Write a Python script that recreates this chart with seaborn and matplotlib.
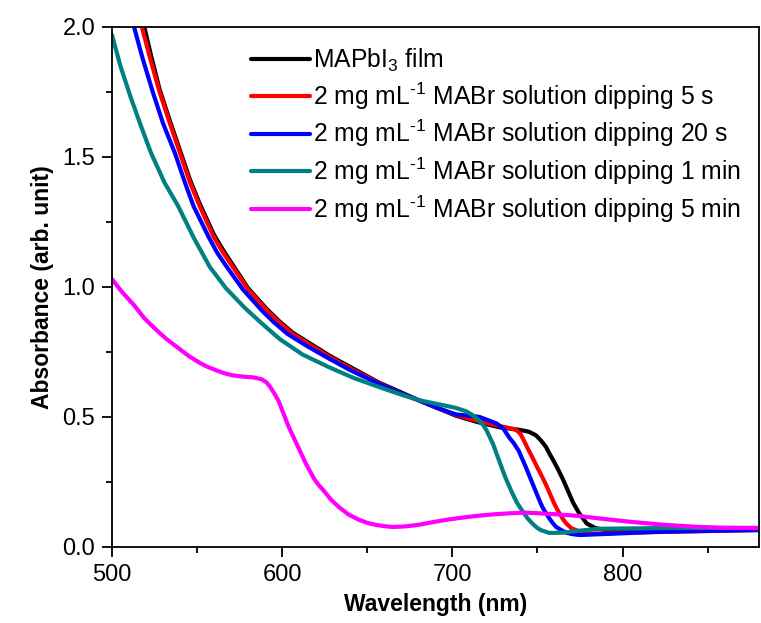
import numpy as np
import matplotlib
matplotlib.use("Agg")
import matplotlib.pyplot as plt
import seaborn as sns

# Absorbanzspektren
wl_film = [519, 523, 528, 534, 540, 546, 551.6, 560, 565.5, 571, 580, 585.5, 591, 598, 606,
           617, 628, 642, 657, 668, 680, 691, 702, 715, 728, 740, 745, 749, 752, 755, 757,
           760, 762, 765, 767, 771, 774.5, 779, 784, 790, 820, 850, 880]
abs_film = [2.0, 1.89, 1.76, 1.64, 1.525, 1.41, 1.32, 1.2, 1.14, 1.085, 0.995, 0.955,
            0.915, 0.87, 0.825, 0.78, 0.735, 0.685, 0.632, 0.6, 0.565, 0.535, 0.505, 0.48,
            0.46, 0.45, 0.443, 0.43, 0.41, 0.385, 0.36, 0.325, 0.30, 0.26, 0.23, 0.17,
            0.13, 0.09, 0.073, 0.065, 0.063, 0.065, 0.068]

wl_5s = [517.6, 522, 528, 534, 540, 546, 551.6, 560, 565.5, 571, 580, 585.5, 591, 598, 606,
         617, 628, 642, 657, 668, 680, 691, 702, 715, 728, 735, 737.5, 740, 742, 745, 747,
         750, 752, 755, 757, 760, 762, 765, 767, 770, 772.7, 776, 780, 790, 800, 840, 880]
abs_5s = [2.0, 1.89, 1.75, 1.63, 1.515, 1.40, 1.31, 1.19, 1.13, 1.077, 0.99, 0.95, 0.91,
          0.865, 0.82, 0.775, 0.73, 0.68, 0.63, 0.595, 0.565, 0.535, 0.508, 0.485, 0.465,
          0.455, 0.45, 0.435, 0.41, 0.37, 0.345, 0.305, 0.28, 0.24, 0.21, 0.165, 0.14,
          0.107, 0.09, 0.072, 0.065, 0.057, 0.052, 0.052, 0.055, 0.06, 0.065]

wl_20s = [513, 518, 524, 530, 537, 543, 548, 557, 562, 567.5, 577, 582.5, 588, 595, 603,
          614, 626, 640, 656, 668, 680, 691, 702, 716, 726, 730, 733.5, 736, 739, 741, 743,
          745.5, 748, 750.5, 752.8, 755, 757, 759, 761, 764, 767, 770, 774.5, 790, 820,
          850, 880]
abs_20s = [2.0, 1.88, 1.75, 1.63, 1.515, 1.40, 1.31, 1.19, 1.13, 1.077, 0.99, 0.95, 0.91,
           0.865, 0.82, 0.775, 0.73, 0.68, 0.63, 0.595, 0.565, 0.535, 0.51, 0.50, 0.475,
           0.455, 0.42, 0.40, 0.37, 0.34, 0.31, 0.27, 0.23, 0.19, 0.155, 0.13, 0.11,
           0.092, 0.077, 0.065, 0.055, 0.05, 0.046, 0.05, 0.058, 0.062, 0.065]

wl_1min = [500, 505, 511, 517, 523, 531, 539, 548, 557.5, 567, 578, 588, 598.5, 612, 628,
           642, 657, 668, 680, 691, 702, 708, 711.7, 715, 718, 720, 724, 727.6, 731, 735,
           738, 741, 744, 747, 750, 752, 757, 765, 775, 786, 825, 880]
abs_1min = [1.97, 1.85, 1.73, 1.62, 1.515, 1.40, 1.31, 1.19, 1.077, 0.995, 0.92, 0.86,
            0.80, 0.74, 0.69, 0.65, 0.615, 0.59, 0.565, 0.55, 0.535, 0.522, 0.508, 0.49,
            0.47, 0.45, 0.395, 0.33, 0.27, 0.21, 0.17, 0.14, 0.112, 0.09, 0.073, 0.065,
            0.054, 0.055, 0.063, 0.07, 0.073, 0.073]

wl_5min = [500, 506, 513, 519, 526, 532, 539, 545, 551.6, 556, 561, 566, 571, 577, 583,
           588, 591, 593, 595.5, 598, 601, 604, 606.5, 609, 611.5, 614, 616.5, 619, 621.5,
           624, 629, 634, 639, 645, 650, 655, 660, 665, 672, 680, 688, 697, 706, 715, 725,
           735, 743, 750, 760, 773, 781, 790, 806, 825, 845, 860, 880]
abs_5min = [1.03, 0.98, 0.93, 0.88, 0.835, 0.80, 0.765, 0.735, 0.708, 0.693, 0.68, 0.668,
            0.66, 0.655, 0.652, 0.645, 0.632, 0.615, 0.59, 0.56, 0.51, 0.46, 0.425, 0.39,
            0.355, 0.32, 0.29, 0.26, 0.238, 0.22, 0.18, 0.15, 0.125, 0.105, 0.093, 0.085,
            0.08, 0.077, 0.079, 0.085, 0.095, 0.105, 0.113, 0.12, 0.126, 0.13, 0.132, 0.13,
            0.126, 0.12, 0.114, 0.107, 0.096, 0.085, 0.077, 0.074, 0.073]

labels = ["MAPbI$_3$ film",
          "2 mg mL$^{\\text{-}1}$ MABr solution dipping 5 s",
          "2 mg mL$^{\\text{-}1}$ MABr solution dipping 20 s",
          "2 mg mL$^{\\text{-}1}$ MABr solution dipping 1 min",
          "2 mg mL$^{\\text{-}1}$ MABr solution dipping 5 min"]
farben = ["#000000", "#ff0000", "#0000ff", "#008080", "#ff00ff"]

sns.set_style("ticks")
plt.rcParams['font.family'] = ['Liberation Sans', 'DejaVu Sans']
plt.rcParams['mathtext.fontset'] = 'custom'
plt.rcParams['mathtext.rm'] = 'Liberation Sans'
plt.rcParams['mathtext.it'] = 'Liberation Sans'
plt.rcParams['text.color'] = 'black'
plt.rcParams['axes.labelcolor'] = 'black'

fig = plt.figure(figsize=(7.61, 6.23), dpi=100)
ax = fig.add_axes([0.147, 0.122, 0.850, 0.835])

serien = [(wl_film, abs_film), (wl_5s, abs_5s), (wl_20s, abs_20s),
          (wl_1min, abs_1min), (wl_5min, abs_5min)]
for (x, y), lab, col in zip(serien, labels, farben):
    sns.lineplot(x=x, y=y, ax=ax, color=col, linewidth=3, label=lab, sort=False)

ax.set_xlim(500, 880)
ax.set_ylim(0, 2.0)
ax.set_xticks([500, 600, 700, 800])
ax.set_xticks([550, 650, 750, 850], minor=True)
ax.set_yticks([0.0, 0.5, 1.0, 1.5, 2.0])
ax.set_yticks([0.25, 0.75, 1.25, 1.75], minor=True)
ax.set_yticklabels(["0.0", "0.5", "1.0", "1.5", "2.0"])
ax.tick_params(which='major', direction='out', length=7, width=1.3, labelsize=17,
               colors='black', pad=5)
ax.tick_params(which='minor', direction='out', length=4.5, width=1.3, colors='black')
for sp in ax.spines.values():
    sp.set_linewidth(1.3)
    sp.set_color('black')

ax.set_xlabel("Wavelength (nm)", fontsize=16.5, fontweight='bold', labelpad=5)
ax.set_ylabel("Absorbance (arb. unit)", fontsize=16.5, fontweight='bold', labelpad=6)

leg = ax.legend(loc='upper left', bbox_to_anchor=(0.2, 0.98), frameon=False,
                fontsize=17.8, handlelength=2.4, handletextpad=0.12, labelspacing=0.25,
                borderaxespad=0)

plt.savefig("out.png", dpi=100)
